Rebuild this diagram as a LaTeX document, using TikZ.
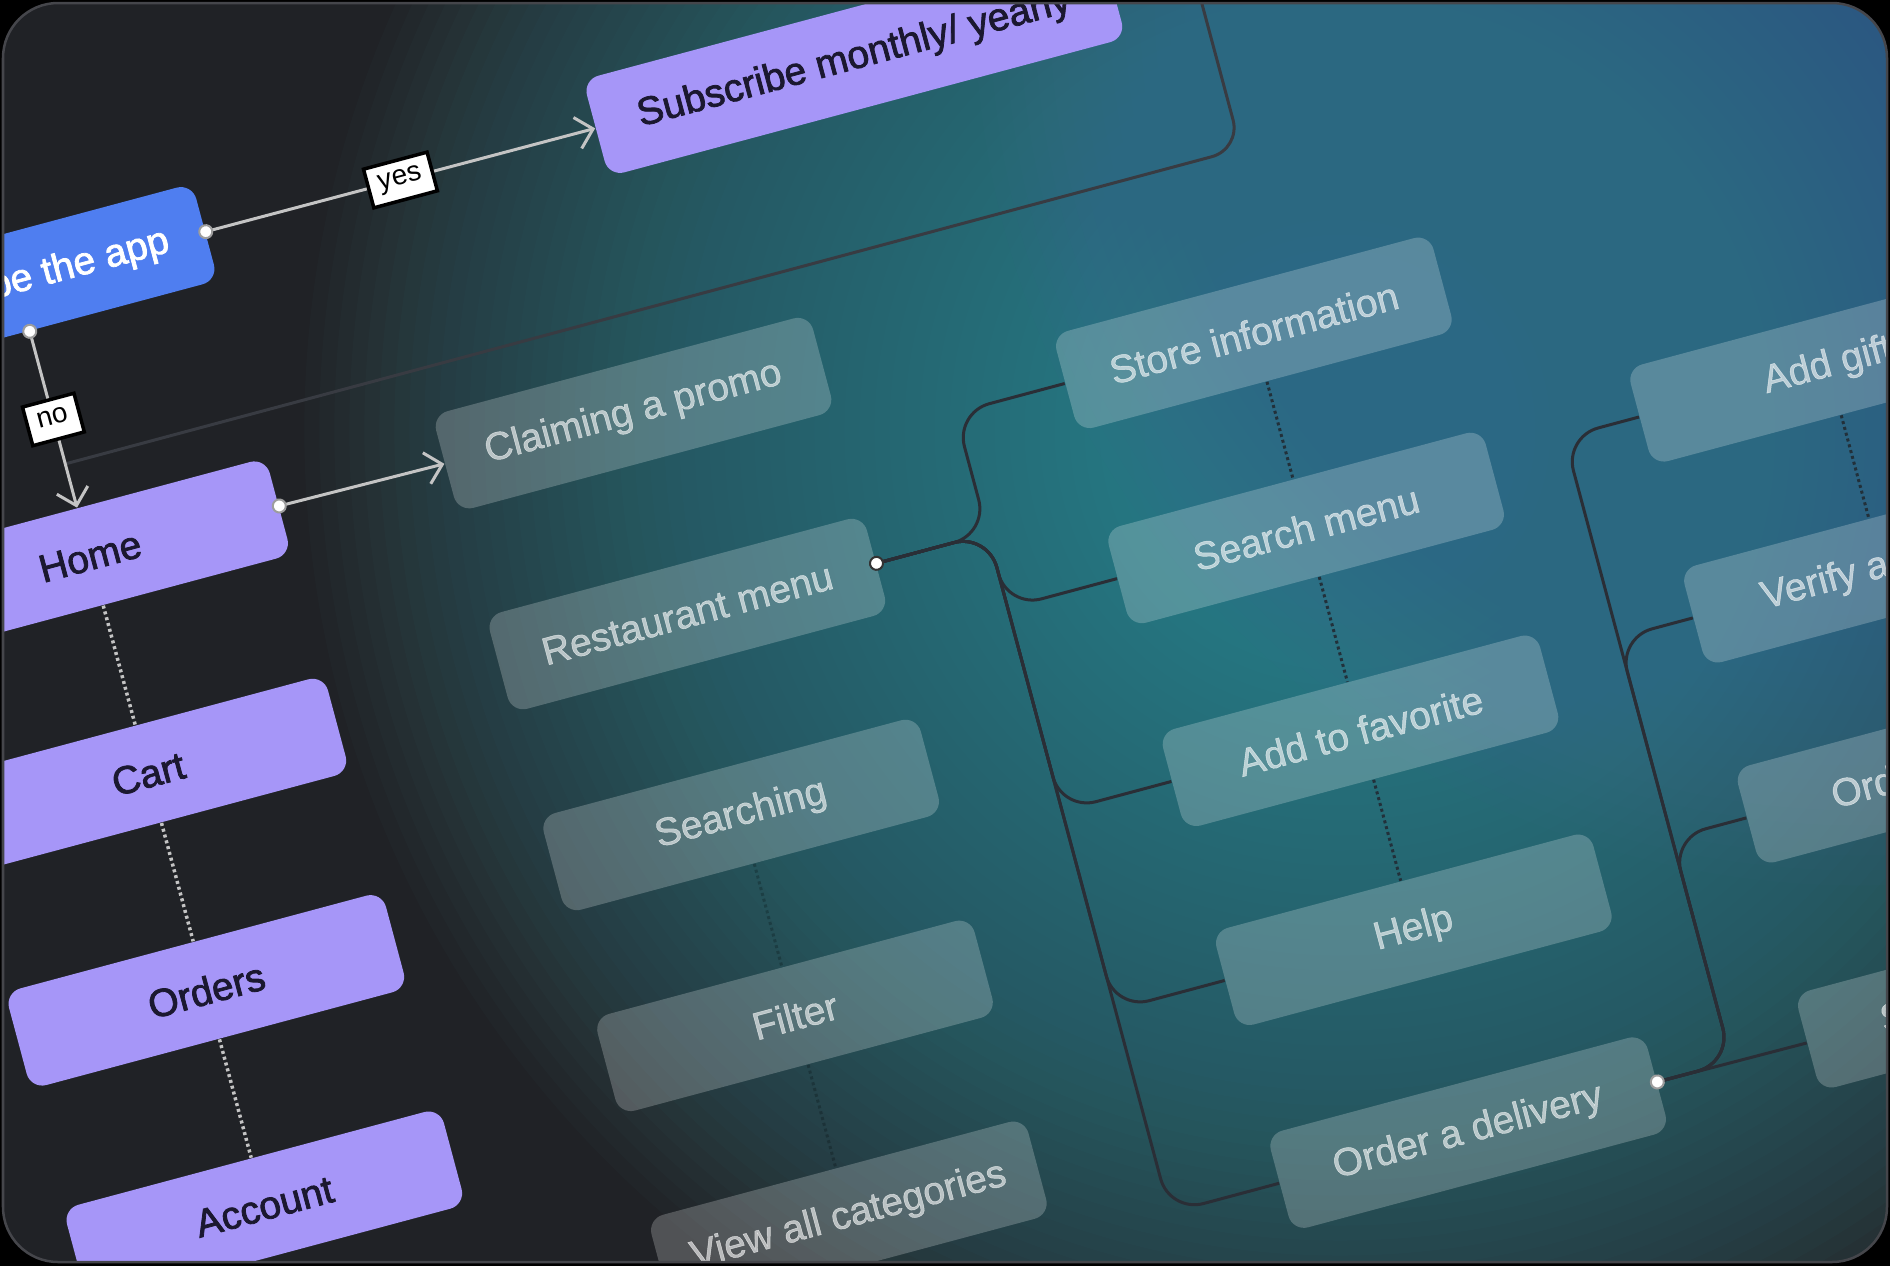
\documentclass[tikz,border=0pt]{standalone}
\usepackage{fontspec}
\setmainfont{Liberation Sans}
\newfontfamily\boxfont{Liberation Sans}[FakeBold=2]
\newfontfamily\greyfont{Liberation Sans}[FakeBold=1.2]
\usetikzlibrary{arrows.meta}

\definecolor{cardbg}{HTML}{202226}
\definecolor{tealglow}{HTML}{4494A3}
\definecolor{blueglow}{HTML}{4A68A0}
\definecolor{lav}{HTML}{A696F8}
\definecolor{appblue}{HTML}{4F7EF0}
\definecolor{inkdark}{HTML}{1B1830}
\definecolor{lightline}{HTML}{C4C4C4}
\definecolor{treeline}{HTML}{2A2E36}
\definecolor{cardedge}{HTML}{45464B}
\definecolor{longline}{HTML}{383B42}
\definecolor{dotdarkc}{HTML}{22303A}

\begin{document}
\begin{tikzpicture}[x=0.01cm,y=-0.01cm,
  lavbox/.style={rectangle, rounded corners=0.16cm, minimum width=3.9cm, minimum height=1cm,
    inner sep=0pt, fill=lav, text=inkdark, font=\boxfont\fontsize{11.1pt}{13pt}\selectfont},
  appbox/.style={lavbox, fill=appblue, text=white},
  greybox/.style={rectangle, rounded corners=0.16cm, minimum width=3.9cm, minimum height=1cm,
    inner sep=0pt, fill=white, fill opacity=0.22, text=white, text opacity=0.6,
    font=\greyfont\fontsize{11.1pt}{13pt}\selectfont},
  flow/.style={draw=lightline, line width=0.03cm, -{Straight Barb[length=0.16cm,width=0.32cm]}},
  tag/.style={draw=black, fill=white, line width=0.035cm, text=black, inner xsep=0.11cm,
    inner ysep=0.09cm, text height=0.16cm, text depth=0.06cm, font=\fontsize{8pt}{9pt}\selectfont},
  pin/.style={fill=white, draw=lightline!80!black, line width=0.02cm},
  darkpin/.style={fill=white, draw=black!80, line width=0.02cm},
  dotlight/.style={draw=lightline, line width=0.035cm, dash pattern=on 0.03cm off 0.03cm},
  dotdark/.style={draw=dotdarkc, line width=0.03cm, dash pattern=on 0.03cm off 0.03cm},
  dotfaint/.style={draw=black, draw opacity=0.22, line width=0.03cm, dash pattern=on 0.03cm off 0.03cm},
  tree/.style={draw=treeline, line width=0.03cm, rounded corners=0.35cm},
  topline/.style={draw=longline, line width=0.03cm, rounded corners=0.3cm}
]
\useasboundingbox (0,0) rectangle (1890,1266);
\fill[black] (0,0) rectangle (1890,1266);
\begin{scope}
\clip[rounded corners=0.55cm] (3,3) rectangle (1887,1262);
\fill[cardbg] (0,0) rectangle (1890,1266);
% soft teal glow
\foreach \r in {0.15,0.3,...,10.5} {
  \fill[tealglow, fill opacity=0.033] (1340,430) circle (\r cm);
}
% soft blue glow top right
\foreach \r in {0.15,0.3,...,9.0} {
  \fill[blueglow, fill opacity=0.03] (1860,0) circle (\r cm);
}

\begin{scope}[rotate=15, transform shape]
% left column
\node[appbox] (app) at (-57,277) {Subscribe the app};
\node[lavbox, minimum width=5.35cm] (sub) at (810,278) {Subscribe monthly/ yearly};
\node[lavbox] (home) at (-57,561) {Home};
\node[lavbox] (cart) at (-57,786) {Cart};
\node[lavbox] (orders) at (-57,1010) {Orders};
\node[lavbox] (account) at (-57,1234) {Account};
% second column
\node[greybox] (claim) at (505,563) {Claiming a promo};
\node[greybox] (rest) at (505,771) {Restaurant menu};
\node[greybox] (searching) at (505,979) {Searching};
\node[greybox] (filter) at (505,1187) {Filter};
\node[greybox] (viewall) at (505,1395) {View all categories};
% third column
\node[greybox] (store) at (1125,646) {Store information};
\node[greybox] (smenu) at (1125,848) {Search menu};
\node[greybox] (fav) at (1125,1058) {Add to favorite};
\node[greybox] (help) at (1125,1264) {Help};
\node[greybox] (order) at (1125,1474) {Order a delivery};
% fourth column
\node[greybox] (gift) at (1671,827) {Add gift};
\node[greybox] (verify) at (1671,1035) {Verify address};
\node[greybox] (ostatus) at (1671,1242) {Order status};
\node[greybox] (split) at (1671,1475) {Split payment};

% long top line
\coordinate (nofork) at (-57,465);
\coordinate (topend) at (1160,120);
\draw[topline] (nofork) -- (1160,465) -- (topend);

% dotted links
\draw[dotlight] (home.south) -- (cart.north);
\draw[dotlight] (cart.south) -- (orders.north);
\draw[dotlight] (orders.south) -- (account.north);
\draw[dotfaint] (searching.south) -- (filter.north);
\draw[dotfaint] (filter.south) -- (viewall.north);
\draw[dotdark] (store.south) -- (smenu.north);
\draw[dotdark] (smenu.south) -- (fav.north);
\draw[dotdark] (fav.south) -- (help.north);
\draw[dotdark] (gift.south) -- (verify.north);

% tree from restaurant menu
\coordinate (rj) at (816,771);
\draw[tree] (rest.east) -- (rj) -- (816,646) -- (store.west);
\draw[tree] (rest.east) -- (rj) -- (816,848) -- (smenu.west);
\draw[tree] (rest.east) -- (rj) -- (816,1058) -- (fav.west);
\draw[tree] (rest.east) -- (rj) -- (816,1264) -- (help.west);
\draw[tree] (rest.east) -- (rj) -- (816,1474) -- (order.west);

% tree from order a delivery
\coordinate (oj) at (1398,1474);
\draw[tree] (order.east) -- (oj) -- (1398,827) -- (gift.west);
\draw[tree] (order.east) -- (oj) -- (1398,1035) -- (verify.west);
\draw[tree] (order.east) -- (oj) -- (1398,1242) -- (ostatus.west);
\draw[tree] (order.east) -- (split.west);

% flow arrows
\draw[flow] (app.east) -- node[tag] (yes) {yes} (sub.west);
\draw[flow] (app.south) -- node[tag] (no) {no} (home.north);
\draw[flow] (home.east) -- (claim.west);

\filldraw[pin] (app.east) circle (0.065cm);
\filldraw[pin] (app.south) circle (0.065cm);
\filldraw[pin] (home.east) circle (0.065cm);
\filldraw[darkpin] (rest.east) circle (0.065cm);
\filldraw[pin] (order.east) circle (0.065cm);
\end{scope}
\end{scope}
\draw[cardedge, line width=0.025cm, rounded corners=0.55cm] (3,3) rectangle (1887,1262);
\end{tikzpicture}
\end{document}
